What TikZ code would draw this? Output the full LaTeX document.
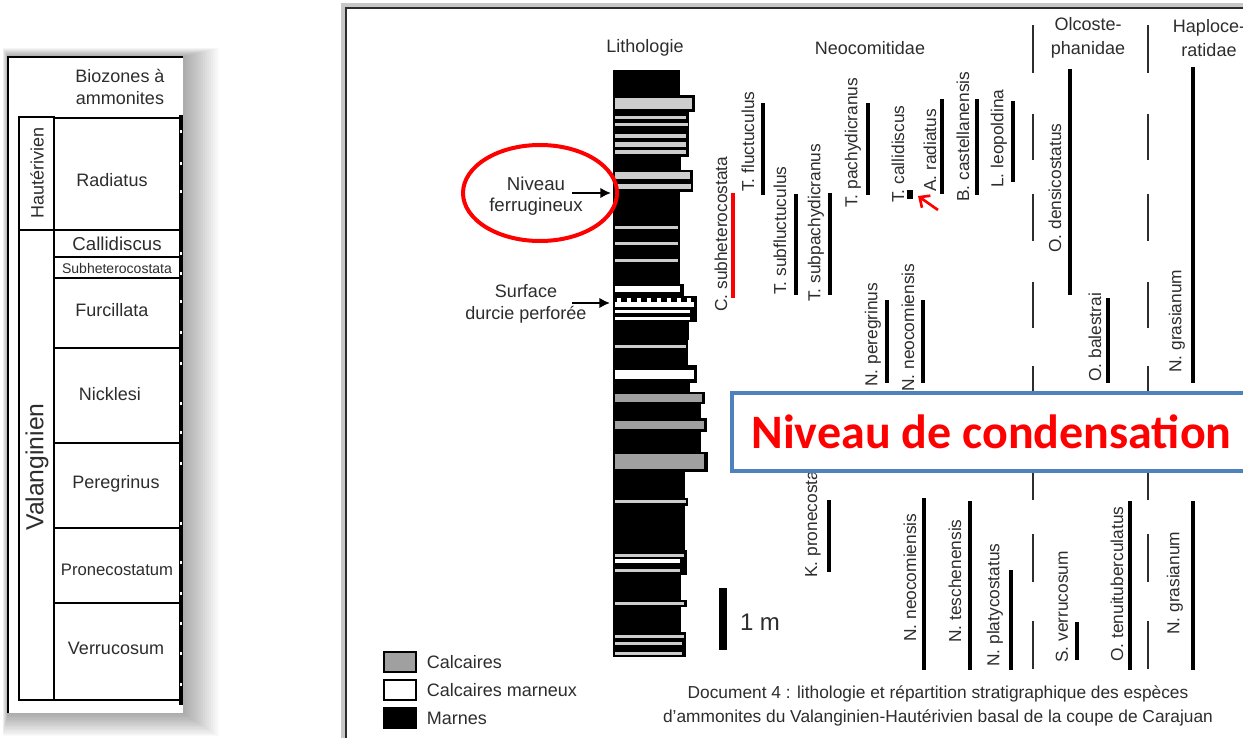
\documentclass[tikz,border=0pt]{standalone}
\usepackage{fontspec}
\setmainfont{Liberation Sans}
\newfontfamily\calibrifont{Carlito}
\usetikzlibrary{arrows.meta,positioning,calc}
\definecolor{ink}{RGB}{45,45,45}
\definecolor{calcgray}{RGB}{160,160,160}
\definecolor{lightcalc}{RGB}{205,205,205}
\definecolor{officeblue}{RGB}{79,129,189}
\definecolor{alertred}{RGB}{255,0,0}

\begin{document}
\begin{tikzpicture}[
    x=0.75pt, y=-0.75pt,
    lbl/.style={font=\fontsize{13.5}{16}\selectfont, text=ink, inner sep=0pt},
    zone/.style={lbl, align=center},
    species/.style={font=\fontsize{13}{15}\selectfont, text=ink, inner sep=0pt, rotate=90, anchor=west},
    rangebar/.style={line width=3.6pt},
    famsep/.style={line width=1.6pt, draw=ink},
    pointer/.style={line width=1.5pt, -{Latex[length=8pt,width=8pt]}},
    legsq/.style={draw=black, line width=2pt, minimum width=24pt, minimum height=15pt, inner sep=0pt},
    condbox/.style={draw=officeblue, line width=3pt, fill=white, minimum width=390pt, minimum height=58pt,
        font=\calibrifont\bfseries\fontsize{36}{38}\selectfont, text=alertred}
]
    \useasboundingbox (0,0) rectangle (1243,738);
    \fill[white] (0,0) rectangle (1243,738);

    % Left panel: biozones
    \foreach \k in {1,...,18}
        \fill[black, opacity=0.02] (8-0.3*\k, 57-0.5*\k) rectangle (183+2*\k, 713+1.3*\k);
    \fill[white] (8,57) rectangle (183,713);
    \draw[black, line width=1.3pt] (8,713) -- (8,57) -- (183,57);
    \node[zone] (biohead) at (120,87) {Biozones à\\ammonites};

    \draw[black, line width=1.5pt] (19,117) rectangle (54,230);
    \draw[black, line width=1.5pt] (19,230) rectangle (54,700);
    \node[lbl, rotate=90] (haut) at (37,173) {Hautérivien};
    \node[lbl, rotate=90, font=\fontsize{18.5}{20}\selectfont] (valang) at (37,467) {Valanginien};

    \foreach \yy in {118,230,257,278,348,443,528,603,700}
        \draw[black, line width=1pt] (54,\yy) -- (180,\yy);
    \node[lbl] (radiatus) at (112,180) {Radiatus};
    \node[lbl, font=\fontsize{14}{16}\selectfont] (callid) at (117,244) {Callidiscus};
    \node[lbl, font=\fontsize{10.5}{12}\selectfont] (subhet) at (117,268) {Subheterocostata};
    \node[lbl] (furcil) at (112,310) {Furcillata};
    \node[lbl] (nickl) at (110,394) {Nicklesi};
    \node[lbl] (peregr) at (116,484) {Peregrinus};
    \node[lbl, font=\fontsize{12.5}{14}\selectfont] (pronec) at (117,570) {Pronecostatum};
    \node[lbl] (verruc) at (116,648) {Verrucosum};

    % clipped lithology on the right edge
    \fill[black] (179,115) rectangle (183,705);
    \foreach \yy in {130,162,190,252,272,300,331,362,402,431,462,522,561,592,622,652,683}
        \fill[white] (180.2,\yy) rectangle (181.8,\yy+3);

    % Right panel frame
    \draw[black!22, line width=3pt] (343,738) -- (343,5) -- (1243,5);
    \draw[ink, line width=1.5pt] (346,738) -- (346,8) -- (1243,8);

    % Headers
    \node[lbl] (litho) at (645,48) {Lithologie};
    \node[lbl] (neoc) at (870,48) {Neocomitidae};
    \node[lbl, align=center, font=\fontsize{13.5}{18}\selectfont] (olco) at (1088,38) {Olcoste-\\phanidae};
    \node[lbl, align=center, font=\fontsize{13.5}{18}\selectfont] (haplo) at (1209,38) {Haploce-\\ratidae};

    % Lithology column
    \foreach \ya/\yb/\xr in {70/95/680, 95/112/695, 112/157/689, 157/170/681, 170/192/693,
        192/284/680, 284/296/684, 296/322/697, 322/340/689, 340/365/688, 365/383/697,
        383/392/690, 392/404/705, 404/418/701, 418/432/707, 432/452/701, 452/472/708,
        472/498/685, 498/506/688, 506/550/685, 550/575/687, 575/600/681, 600/607/687,
        607/632/681, 632/657/686}
        \fill[black] (613,\ya) rectangle (\xr,\yb);
    \foreach \ya/\yb/\xr/\c in {98/109/692/lightcalc, 116/119/686/lightcalc, 123/126/688/lightcalc,
        134/138/686/lightcalc, 142/147/686/lightcalc, 150/154/686/lightcalc, 172/179/690/lightcalc,
        184/189/691/lightcalc, 226/229/678/lightcalc, 242/245/678/lightcalc, 259/262/678/lightcalc,
        286/292/680/white, 302/307/694/white, 310/313/690/white, 317/320/690/white,
        345/348/686/lightcalc, 370/379/694/white, 394/402/702/calcgray, 421/429/704/calcgray,
        454/469/704/calcgray, 500/503/686/lightcalc, 554/557/684/lightcalc, 559/563/680/white,
        569/572/680/lightcalc, 602/605/684/lightcalc, 635/638/684/lightcalc, 642/645/682/lightcalc,
        652/655/682/lightcalc}
        \fill[\c] (615,\ya) rectangle (\xr,\yb);
    \foreach \xx in {617,627,...,687}
        \fill[white] (\xx,298) rectangle (\xx+4,302);

    % Annotations on the column
    \node[lbl, align=center, font=\fontsize{14}{15.5}\selectfont] (ferru) at (536,196) {Niveau\\ferrugineux};
    \coordinate (ferrutail) at (572,193);
    \coordinate (ferrutip) at (611,193);
    \draw[pointer] (ferrutail) -- (ferrutip);
    \node[lbl, align=center, font=\fontsize{13.5}{16.5}\selectfont] (surf) at (526,304) {Surface\\durcie perforée};
    \coordinate (surftail) at (572,303);
    \coordinate (surftip) at (610,303);
    \draw[pointer] (surftail) -- (surftip);
    \coordinate (ferruring) at (540,193);
    \draw[alertred, line width=3pt] (ferruring) ellipse [x radius=77, y radius=48];

    % Scale
    \fill[black] (719,588) rectangle (727,650);
    \node[lbl, font=\fontsize{18}{20}\selectfont] (scale) at (760,622) {1 m};

    % Family separators
    \foreach \xs in {1033,1148}
        \foreach \ya/\yb in {25/73, 114/160, 194/241, 282/328, 366/412, 455/500, 534/582, 621/669}
            \draw[famsep] (\xs,\ya) -- (\xs,\yb);

    % Species ranges
    \draw[rangebar, alertred] (733,193) -- (733,298);
    \foreach \xb/\ya/\yb in {763/103/195, 796/194/295, 830/193/295, 868/103/195, 942/99/194,
        977/99/195, 1013/101/182, 1070/69/295, 1193/67/383, 887/300/383, 923/300/383,
        1108/298/383, 829/500/572, 924/498/670, 970/501/670, 1011/570/670, 1077/622/660,
        1130/501/670, 1193/501/670}
        \draw[rangebar] (\xb,\ya) -- (\xb,\yb);
    \fill[black] (907,190) rectangle (913,199);
    \coordinate (callitip) at (918,196);
    \coordinate (callitail) at (938,210);
    \draw[alertred, line width=2pt, -{Straight Barb[length=6pt,width=11pt]}] (callitail) -- (callitip);

    % Species names
    \node[species] (csub) at (721,312) {C. subheterocostata};
    \node[species] (tflu) at (748,192) {T. fluctuculus};
    \node[species] (tsubf) at (780,295) {T. subfluctuculus};
    \node[species] (tsubp) at (816,302) {T. subpachydicranus};
    \node[species] (tpach) at (853,208) {T. pachydicranus};
    \node[species] (tcall) at (898,203) {T. callidiscus};
    \node[species] (arad) at (930,192) {A. radiatus};
    \node[species] (bcast) at (963,202) {B. castellanensis};
    \node[species] (lleop) at (999,188) {L. leopoldina};
    \node[species] (odens) at (1055,253) {O. densicostatus};
    \node[species] (nper) at (873,387) {N. peregrinus};
    \node[species] (nneoa) at (908,392) {N. neocomiensis};
    \node[species] (obal) at (1095,382) {O. balestrai};
    \node[species] (ngraa) at (1177,373) {N. grasianum};
    \node[species] (kpro) at (813,578) {K. pronecostatum};
    \node[species] (nneob) at (910,642) {N. neocomiensis};
    \node[species] (ntes) at (955,643) {N. teschenensis};
    \node[species] (nplat) at (995,667) {N. platycostatus};
    \node[species] (sver) at (1062,663) {S. verrucosum};
    \node[species] (oten) at (1117,662) {O. tenuituberculatus};
    \node[species] (ngrab) at (1175,635) {N. grasianum};

    % Condensation box
    \node[condbox] (cond) at (991.5,432) {Niveau de condensation};

    % Legend
    \node[legsq, fill=calcgray] (lcalc) at (400,662) {};
    \node[legsq, fill=white, below=4pt of lcalc] (lmarn) {};
    \node[legsq, fill=black, below=4pt of lmarn] (lmar) {};
    \node[lbl, right=7pt of lcalc] (tcalc) {Calcaires};
    \node[lbl, right=7pt of lmarn] (tmarn) {Calcaires marneux};
    \node[lbl, right=7pt of lmar] (tmar) {Marnes};

    % Caption
    \node[lbl, align=center, font=\fontsize{13}{18.5}\selectfont] (caption) at (938,706)
        {Document 4 : lithologie et répartition stratigraphique des espèces\\d'ammonites du Valanginien-Hautérivien basal de la coupe de Carajuan};
\end{tikzpicture}
\end{document}
